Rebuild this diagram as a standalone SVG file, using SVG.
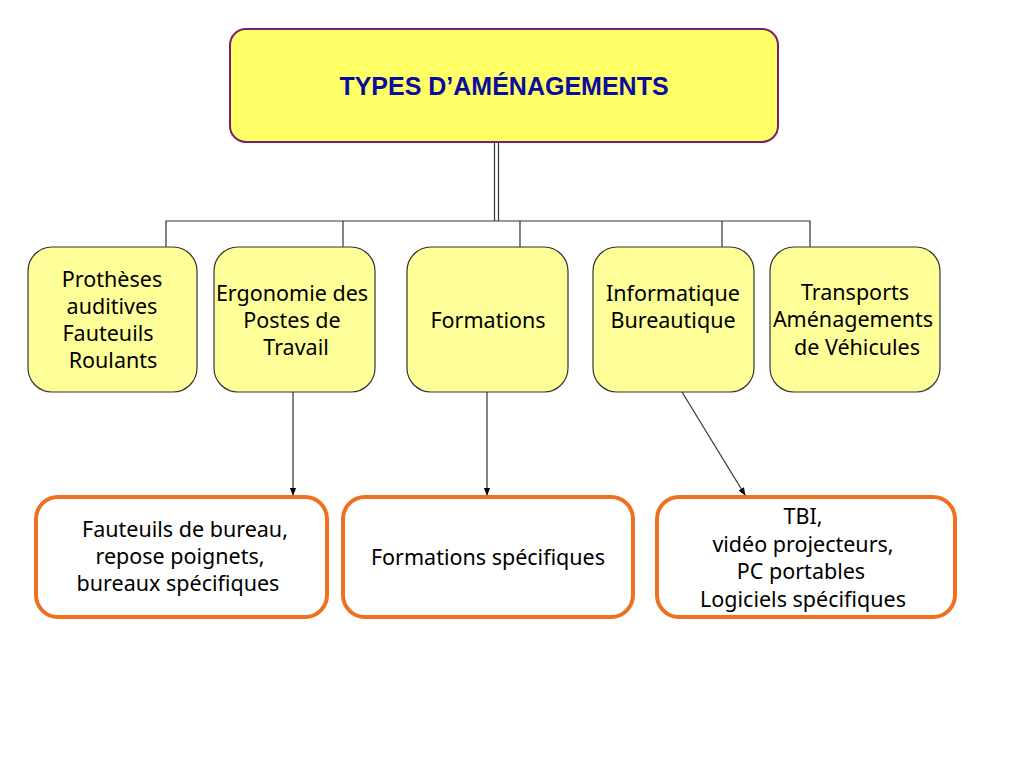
<svg xmlns="http://www.w3.org/2000/svg" width="1024" height="768" viewBox="0 0 1024 768">
<defs>
<style>
.top{fill:#ffff66;stroke:#7a1f6e;stroke-width:2}
.cat{fill:#ffff99;stroke:#333;stroke-width:1.2}
.det{fill:#fff;stroke:#f07020;stroke-width:4}
.t{font-family:"Noto Sans","DejaVu Sans",sans-serif;font-size:21.5px;fill:#000;text-anchor:middle}
.title{font-family:"Liberation Sans",Arial,sans-serif;font-size:25px;font-weight:bold;fill:#0c0c9c;text-anchor:middle}
.ln{stroke:#333;stroke-width:1.2;fill:none}
</style>
<marker id="ah" viewBox="0 0 10 10" refX="9" refY="5" markerWidth="8" markerHeight="8" orient="auto-start-reverse" markerUnits="userSpaceOnUse">
<path d="M0,1 L10,5 L0,9 z" fill="#000"/>
</marker>
</defs>
<rect width="1024" height="768" fill="#fff"/>
<g id="connectors">
<line class="ln" x1="494.5" y1="142" x2="494.5" y2="221"/>
<line class="ln" x1="498.5" y1="142" x2="498.5" y2="221"/>
<polyline class="ln" points="166,247 166,221 810,221 810,247"/>
<line class="ln" x1="343" y1="221" x2="343" y2="247"/>
<line class="ln" x1="520" y1="221" x2="520" y2="247"/>
<line class="ln" x1="722" y1="221" x2="722" y2="247"/>
<line class="ln" x1="293" y1="392" x2="293" y2="495" marker-end="url(#ah)"/>
<line class="ln" x1="487" y1="392" x2="487" y2="495" marker-end="url(#ah)"/>
<line class="ln" x1="682" y1="392" x2="745" y2="495" marker-end="url(#ah)"/>
</g>
<g id="n-types">
<rect class="top" x="230" y="29" width="548" height="113" rx="16"/>
<text class="title" x="504" y="95">TYPES D’AMÉNAGEMENTS</text>
</g>
<g id="n-protheses">
<rect class="cat" x="28" y="247" width="169" height="145" rx="24"/>
<text class="t" x="112" y="287">Prothèses</text>
<text class="t" x="112" y="314">auditives</text>
<text class="t" x="108" y="341">Fauteuils</text>
<text class="t" x="113" y="368">Roulants</text>
</g>
<g id="n-ergonomie">
<rect class="cat" x="214" y="247" width="161" height="145" rx="24"/>
<text class="t" x="292" y="301">Ergonomie des</text>
<text class="t" x="292" y="328">Postes de</text>
<text class="t" x="296" y="355">Travail</text>
</g>
<g id="n-formations">
<rect class="cat" x="407" y="247" width="161" height="145" rx="24"/>
<text class="t" x="488" y="328">Formations</text>
</g>
<g id="n-informatique">
<rect class="cat" x="593" y="247" width="161" height="145" rx="24"/>
<text class="t" x="673" y="301">Informatique</text>
<text class="t" x="673" y="328">Bureautique</text>
</g>
<g id="n-transports">
<rect class="cat" x="770" y="247" width="170" height="145" rx="24"/>
<text class="t" x="855" y="300">Transports</text>
<text class="t" x="853" y="327">Aménagements</text>
<text class="t" x="857" y="355">de Véhicules</text>
</g>
<g id="n-fauteuils">
<rect class="det" x="36" y="497" width="291" height="120" rx="22"/>
<text class="t" x="185" y="537">Fauteuils de bureau,</text>
<text class="t" x="180" y="564">repose poignets,</text>
<text class="t" x="178" y="591">bureaux spécifiques</text>
</g>
<g id="n-formspec">
<rect class="det" x="343" y="497" width="290" height="120" rx="22"/>
<text class="t" x="488" y="565">Formations spécifiques</text>
</g>
<g id="n-tbi">
<rect class="det" x="657" y="497" width="298" height="120" rx="22"/>
<text class="t" x="803" y="524">TBI,</text>
<text class="t" x="803" y="552">vidéo projecteurs,</text>
<text class="t" x="801" y="579">PC portables</text>
<text class="t" x="803" y="607">Logiciels spécifiques</text>
</g>
</svg>
